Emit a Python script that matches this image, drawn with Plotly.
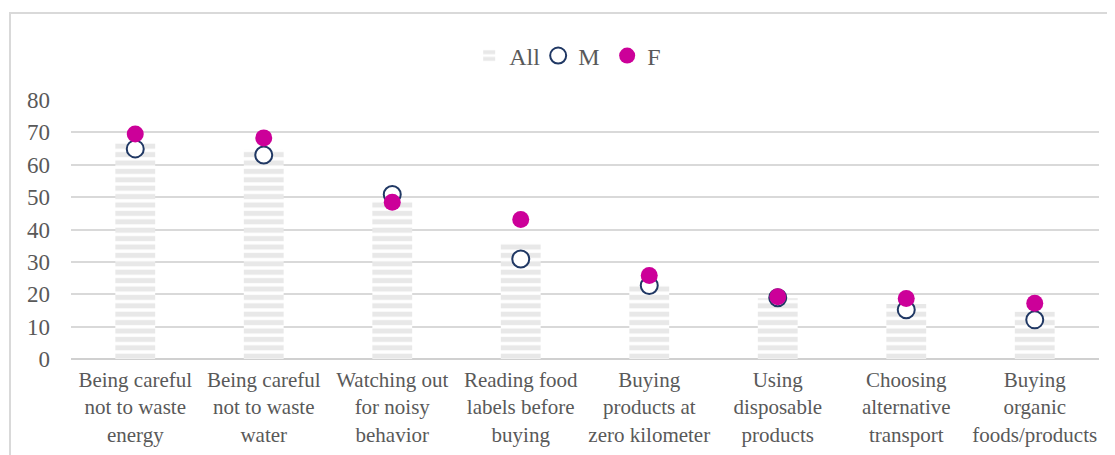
import plotly.graph_objects as go

categories = [
    "Being careful<br>not to waste<br>energy",
    "Being careful<br>not to waste<br>water",
    "Watching out<br>for noisy<br>behavior",
    "Reading food<br>labels before<br>buying",
    "Buying<br>products at<br>zero kilometer",
    "Using<br>disposable<br>products",
    "Choosing<br>alternative<br>transport",
    "Buying<br>organic<br>foods/products",
]
all_vals = [67.2, 64.6, 49.2, 35.8, 22.7, 18.8, 17.0, 14.7]
m_vals = [64.9, 63.0, 50.8, 30.9, 22.7, 18.9, 15.2, 12.1]
f_vals = [69.5, 68.3, 48.4, 43.1, 25.8, 19.2, 18.7, 17.2]
y_ticks = [0, 10, 20, 30, 40, 50, 60, 70, 80]

FONT = "Liberation Serif, Times New Roman, serif"
TXT = "#595959"

fig = go.Figure()
fig.add_trace(go.Bar(
    x=categories, y=all_vals, name="All", width=0.31,
    marker=dict(color="white", line=dict(width=0),
                pattern=dict(shape="-", fgcolor="#D2D2D2", bgcolor="white",
                             size=8.4, solidity=0.6)),
))
fig.add_trace(go.Scatter(
    x=categories, y=m_vals, name="M", mode="markers",
    marker=dict(size=17, color="white", line=dict(color="#203864", width=2)),
))
fig.add_trace(go.Scatter(
    x=categories, y=f_vals, name="F", mode="markers",
    marker=dict(size=17, color="#CC0099", line=dict(width=0)),
))

fig.update_layout(
    width=1115, height=455,
    margin=dict(l=63, r=24, t=92, b=104),
    paper_bgcolor="white", plot_bgcolor="white",
    font=dict(family=FONT, color=TXT, size=21),
    showlegend=True,
    legend=dict(orientation="h", x=0.488, xanchor="center", y=1.17, yanchor="middle",
                font=dict(size=24, color=TXT), itemwidth=30,
                entrywidth=24, entrywidthmode="pixels",
                traceorder="normal"),
    bargap=0.69,
    xaxis=dict(tickfont=dict(size=21, color=TXT), showgrid=False, showline=False,
               ticks="", range=[-0.5, 7.5], ticklabelstandoff=6),
    yaxis=dict(range=[0, 80], tickvals=y_ticks, showgrid=True, gridcolor="#D9D9D9",
               gridwidth=1.5, zeroline=True, zerolinecolor="#D0D0D0", zerolinewidth=2,
               tickfont=dict(size=23, color=TXT), ticks="", ticklabelstandoff=20,
               showline=False),
    shapes=[dict(type="rect", xref="paper", yref="paper",
                 x0=1 / 1028 * 1 - 62 / 1028, x1=1.1, y0=-0.5, y1=1 + 87 / 259,
                 line=dict(color="#D9D9D9", width=2), fillcolor="rgba(0,0,0,0)",
                 layer="below")],
)

fig.write_html("out.html")
